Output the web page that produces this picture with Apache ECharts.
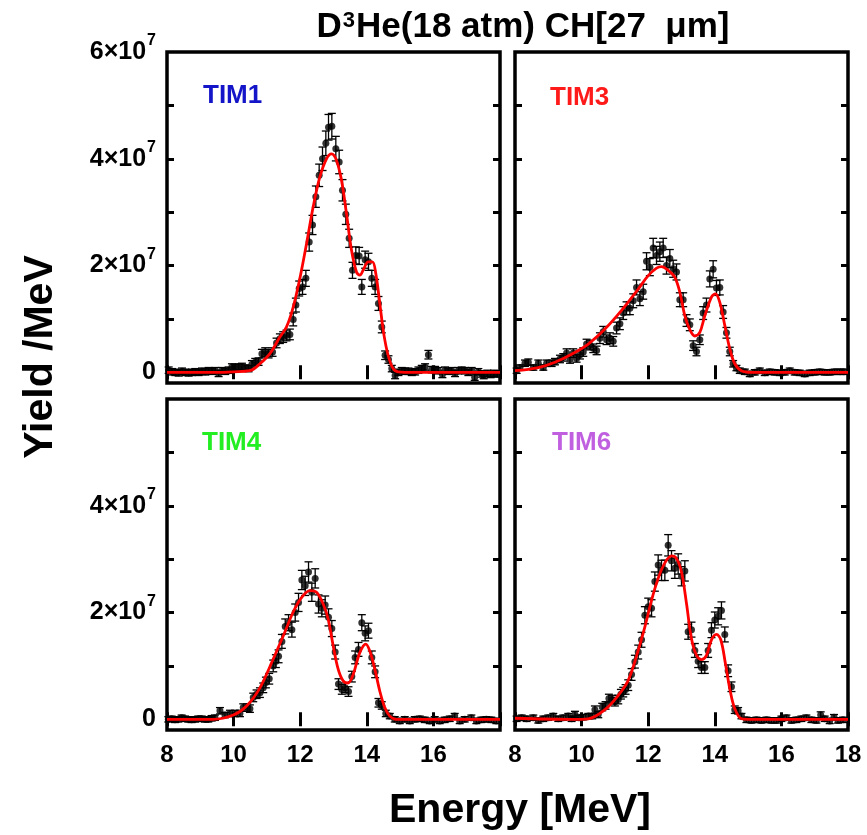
<!DOCTYPE html>
<html>
<head>
<meta charset="utf-8">
<script src="https://cdn.jsdelivr.net/npm/echarts@6/dist/echarts.min.js"></script>
<style>
  html, body { margin: 0; padding: 0; background: #fff; }
  #chart { width: 867px; height: 835px; }
</style>
</head>
<body>
<div id="chart"></div>
<script>
// Proton spectra per detector: [energy (MeV), yield (1e7 /MeV), error (1e7 /MeV)]
const tim1Points = [
  [8.05,0.04,0.06],[8.15,0.01,0.06],[8.25,0.0,0.06],[8.35,-0.01,0.06],[8.45,0.02,0.06],[8.55,0.0,0.06],
  [8.65,-0.01,0.06],[8.75,0.0,0.06],[8.85,0.01,0.06],[8.95,0.0,0.06],[9.05,0.02,0.06],[9.15,0.01,0.06],
  [9.25,0.03,0.06],[9.35,0.02,0.06],[9.45,0.03,0.06],[9.55,-0.02,0.06],[9.65,0.03,0.06],[9.75,0.02,0.06],
  [9.85,0.04,0.06],[9.95,0.1,0.06],[10.05,0.09,0.06],[10.15,0.1,0.06],[10.25,0.11,0.06],[10.35,0.08,0.06],
  [10.45,0.07,0.06],[10.55,0.15,0.07],[10.65,0.19,0.07],[10.75,0.2,0.07],[10.85,0.35,0.08],[10.95,0.38,0.08],
  [11.05,0.35,0.08],[11.17,0.38,0.08],[11.29,0.55,0.09],[11.39,0.63,0.09],[11.49,0.66,0.1],[11.59,0.69,0.1],
  [11.69,0.71,0.1],[11.79,0.99,0.12],[11.87,1.26,0.13],[11.97,1.57,0.14],[12.07,1.6,0.14],[12.17,1.76,0.15],
  [12.27,2.44,0.17],[12.37,2.76,0.18],[12.47,3.29,0.2],[12.57,3.69,0.21],[12.67,4.0,0.22],[12.77,4.29,0.23],
  [12.85,4.59,0.24],[12.95,4.61,0.24],[13.07,4.19,0.23],[13.17,3.94,0.22],[13.27,3.41,0.2],[13.37,2.96,0.19],
  [13.47,2.51,0.17],[13.57,1.91,0.15],[13.67,2.19,0.16],[13.77,2.18,0.16],[13.85,1.6,0.14],[13.95,2.11,0.16],
  [14.05,2.07,0.16],[14.15,1.76,0.15],[14.25,1.6,0.14],[14.35,1.29,0.13],[14.45,0.85,0.11],[14.55,0.32,0.08],
  [14.65,0.24,0.07],[14.75,0.07,0.06],[14.85,-0.06,0.06],[14.95,0.0,0.06],[15.05,0.03,0.06],[15.15,0.02,0.06],
  [15.25,0.02,0.06],[15.35,0.0,0.06],[15.45,0.01,0.06],[15.55,0.04,0.06],[15.65,0.07,0.06],[15.75,0.1,0.06],
  [15.85,0.33,0.08],[15.95,0.05,0.06],[16.05,0.05,0.06],[16.15,0.03,0.06],[16.27,-0.04,0.06],[16.35,0.04,0.06],
  [16.45,0.02,0.06],[16.55,0.03,0.06],[16.65,-0.02,0.06],[16.75,0.03,0.06],[16.85,0.04,0.06],[16.95,0.03,0.06],
  [17.05,0.0,0.06],[17.15,0.03,0.06],[17.24,-0.09,0.06],[17.35,0.01,0.06],[17.45,-0.03,0.06],[17.51,-0.06,0.06],
  [17.62,-0.02,0.06],[17.72,-0.04,0.06],[17.82,-0.02,0.06],[17.92,-0.03,0.06]
];
const tim1Fit = [
  [8.0,0.0],[9.5,0.0],[10.0,0.01],[10.49,0.03],[10.79,0.16],[11.09,0.35],[11.39,0.66],[11.59,0.85],
  [11.79,1.22],[11.99,1.76],[12.19,2.41],[12.39,3.1],[12.59,3.66],[12.79,4.0],[12.94,4.09],[13.09,3.97],
  [13.24,3.6],[13.39,2.97],[13.54,2.29],[13.69,1.88],[13.79,1.82],[13.91,1.94],[14.04,2.07],[14.17,2.07],
  [14.27,1.85],[14.39,1.29],[14.51,0.72],[14.64,0.32],[14.79,0.07],[14.94,0.01],[15.39,0.0],[18.0,0.0]
];

const tim3Points = [
  [8.05,0.03,0.05],[8.15,0.09,0.05],[8.3,0.17,0.06],[8.4,0.19,0.06],[8.55,0.09,0.05],[8.7,0.17,0.06],
  [8.85,0.09,0.05],[8.95,0.17,0.06],[9.1,0.17,0.06],[9.2,0.2,0.06],[9.35,0.25,0.07],[9.45,0.28,0.07],
  [9.55,0.36,0.08],[9.65,0.24,0.07],[9.75,0.36,0.08],[9.85,0.26,0.07],[9.95,0.33,0.08],[10.05,0.38,0.08],
  [10.15,0.53,0.09],[10.25,0.51,0.09],[10.35,0.45,0.08],[10.45,0.41,0.08],[10.55,0.64,0.1],[10.65,0.76,0.1],
  [10.75,0.61,0.09],[10.85,0.64,0.1],[10.95,0.58,0.09],[11.05,0.83,0.11],[11.15,0.91,0.11],[11.25,1.11,0.12],
  [11.35,1.2,0.12],[11.45,1.2,0.12],[11.55,1.34,0.13],[11.65,1.59,0.14],[11.75,1.38,0.13],[11.85,1.51,0.14],
  [11.95,2.08,0.16],[12.05,1.97,0.16],[12.15,2.33,0.18],[12.25,2.19,0.17],[12.35,2.26,0.18],[12.45,2.33,0.18],
  [12.55,2.0,0.16],[12.65,2.13,0.17],[12.75,1.94,0.16],[12.85,1.88,0.15],[12.95,1.36,0.13],[13.05,1.36,0.13],
  [13.15,0.97,0.11],[13.25,0.89,0.11],[13.35,0.5,0.09],[13.45,0.39,0.08],[13.55,0.61,0.09],[13.65,1.11,0.12],
  [13.75,1.26,0.13],[13.85,1.75,0.15],[13.95,1.93,0.16],[14.05,1.58,0.14],[14.15,1.59,0.14],[14.25,1.13,0.12],
  [14.35,0.74,0.1],[14.45,0.39,0.08],[14.55,0.16,0.06],[14.65,0.08,0.05],[14.75,0.03,0.05],[14.9,0.01,0.05],
  [15.05,-0.03,0.05],[15.2,0.0,0.05],[15.35,0.03,0.05],[15.5,-0.01,0.05],[15.65,0.01,0.05],[15.8,0.0,0.05],
  [15.95,-0.01,0.05],[16.1,0.0,0.05],[16.25,0.03,0.05],[16.4,0.0,0.05],[16.55,-0.01,0.05],[16.7,-0.03,0.05],
  [16.85,-0.01,0.05],[17.0,0.0,0.05],[17.15,0.01,0.05],[17.3,0.0,0.05],[17.45,0.0,0.05],[17.6,0.01,0.05],
  [17.75,0.01,0.05],[17.88,0.01,0.05]
];
const tim3Fit = [
  [8.0,0.03],[8.7,0.09],[9.2,0.19],[9.7,0.34],[10.2,0.53],[10.7,0.81],[11.2,1.16],[11.7,1.56],[12.0,1.81],
  [12.25,1.95],[12.4,1.98],[12.6,1.91],[12.8,1.78],[12.95,1.5],[13.1,1.06],[13.25,0.8],[13.4,0.68],
  [13.55,0.75],[13.7,1.06],[13.9,1.41],[14.02,1.47],[14.15,1.31],[14.3,0.88],[14.45,0.44],[14.6,0.16],
  [14.8,0.03],[15.1,0.0],[15.7,0.0],[18.0,0.0]
];

const tim4Points = [
  [8.04,0.0,0.05],[8.14,0.01,0.05],[8.24,-0.01,0.05],[8.34,0.0,0.05],[8.44,0.03,0.05],[8.54,0.01,0.05],
  [8.64,0.0,0.05],[8.74,-0.01,0.05],[8.84,0.0,0.05],[8.94,0.01,0.05],[9.04,0.01,0.05],[9.14,0.0,0.05],
  [9.24,0.0,0.05],[9.34,0.02,0.05],[9.44,0.03,0.05],[9.59,0.16,0.06],[9.74,0.08,0.05],[9.89,0.11,0.06],
  [10.04,0.11,0.06],[10.19,0.11,0.06],[10.29,0.22,0.07],[10.41,0.22,0.07],[10.49,0.2,0.07],[10.59,0.41,0.08],
  [10.69,0.47,0.08],[10.79,0.5,0.09],[10.89,0.59,0.09],[10.97,0.69,0.1],[11.07,0.76,0.1],[11.19,1.0,0.11],
  [11.27,1.09,0.12],[11.35,1.18,0.12],[11.45,1.46,0.13],[11.55,1.74,0.14],[11.65,1.81,0.15],[11.75,1.68,0.14],
  [11.85,2.0,0.16],[11.95,2.19,0.17],[12.05,2.61,0.18],[12.15,2.5,0.18],[12.25,2.76,0.19],[12.35,2.38,0.17],
  [12.45,2.64,0.18],[12.55,2.16,0.17],[12.65,2.08,0.16],[12.75,2.14,0.17],[12.85,1.91,0.16],[12.95,1.7,0.15],
  [13.05,1.26,0.13],[13.15,0.66,0.1],[13.25,0.56,0.09],[13.35,0.59,0.09],[13.45,0.52,0.09],[13.55,0.8,0.1],
  [13.65,1.16,0.12],[13.75,1.31,0.13],[13.85,1.81,0.15],[13.95,1.61,0.14],[14.05,1.66,0.14],[14.15,1.16,0.12],
  [14.25,0.89,0.11],[14.35,0.31,0.08],[14.45,0.26,0.07],[14.57,0.11,0.06],[14.69,0.06,0.05],[14.84,0.0,0.05],
  [14.99,-0.03,0.05],[15.14,0.0,0.05],[15.29,-0.03,0.05],[15.44,0.0,0.05],[15.59,0.01,0.05],[15.74,-0.01,0.05],
  [15.89,-0.03,0.05],[16.04,0.0,0.05],[16.19,-0.03,0.05],[16.34,-0.01,0.05],[16.49,0.01,0.05],[16.64,0.06,0.05],
  [16.79,-0.03,0.05],[16.94,0.0,0.05],[17.14,0.03,0.05],[17.29,-0.03,0.05],[17.44,-0.01,0.05],[17.59,0.0,0.05],
  [17.74,-0.01,0.05],[17.89,-0.03,0.05]
];
const tim4Fit = [
  [8.0,0.0],[9.39,0.0],[9.99,0.08],[10.39,0.25],[10.79,0.59],[11.19,1.13],[11.49,1.56],[11.79,2.01],
  [12.04,2.28],[12.29,2.41],[12.49,2.38],[12.69,2.16],[12.84,1.88],[12.99,1.38],[13.14,0.94],[13.29,0.72],
  [13.44,0.68],[13.59,0.84],[13.79,1.25],[13.97,1.41],[14.09,1.28],[14.24,0.94],[14.39,0.53],[14.54,0.22],
  [14.69,0.06],[14.89,0.0],[18.0,0.0]
];

const tim6Points = [
  [8.05,0.01,0.05],[8.2,0.03,0.05],[8.35,0.01,0.05],[8.55,0.03,0.05],[8.7,-0.02,0.05],[8.85,0.01,0.05],
  [9.0,0.03,0.05],[9.15,0.06,0.05],[9.3,0.01,0.05],[9.45,0.03,0.05],[9.6,0.06,0.05],[9.7,0.01,0.05],
  [9.8,0.09,0.06],[9.92,0.03,0.05],[10.05,0.04,0.05],[10.2,0.06,0.05],[10.32,0.06,0.05],[10.4,0.18,0.07],
  [10.5,0.09,0.06],[10.62,0.23,0.07],[10.72,0.26,0.07],[10.82,0.39,0.08],[10.92,0.37,0.08],[11.0,0.33,0.08],
  [11.1,0.37,0.08],[11.18,0.47,0.09],[11.25,0.51,0.09],[11.32,0.56,0.09],[11.4,0.64,0.1],[11.5,0.84,0.11],
  [11.6,1.08,0.12],[11.7,1.26,0.13],[11.8,1.49,0.14],[11.9,1.95,0.16],[12.0,2.11,0.16],[12.1,2.08,0.16],
  [12.2,2.58,0.18],[12.3,2.89,0.19],[12.4,2.79,0.19],[12.5,2.79,0.19],[12.6,3.26,0.2],[12.7,2.97,0.19],
  [12.8,2.83,0.19],[12.9,2.91,0.19],[13.0,2.68,0.18],[13.1,2.78,0.19],[13.2,1.64,0.14],[13.3,1.68,0.14],
  [13.4,1.29,0.13],[13.5,1.09,0.12],[13.6,0.97,0.11],[13.7,0.97,0.11],[13.8,1.29,0.13],[13.9,1.67,0.14],
  [14.0,1.86,0.15],[14.1,1.93,0.16],[14.2,2.04,0.16],[14.3,1.59,0.14],[14.4,0.91,0.11],[14.5,0.61,0.09],
  [14.6,0.18,0.07],[14.7,0.16,0.06],[14.8,0.06,0.05],[14.95,-0.01,0.05],[15.1,-0.02,0.05],[15.25,-0.01,0.05],
  [15.4,-0.02,0.05],[15.55,-0.01,0.05],[15.7,-0.02,0.05],[15.85,-0.02,0.05],[16.0,0.01,0.05],[16.15,0.03,0.05],
  [16.3,-0.02,0.05],[16.45,-0.01,0.05],[16.6,0.01,0.05],[16.75,0.03,0.05],[16.9,-0.01,0.05],[17.05,-0.02,0.05],
  [17.18,0.08,0.06],[17.3,0.01,0.05],[17.45,-0.03,0.05],[17.58,0.04,0.05],[17.7,-0.02,0.05],[17.85,-0.01,0.05]
];
const tim6Fit = [
  [8.0,0.02],[9.7,0.0],[10.2,0.01],[10.7,0.18],[11.1,0.45],[11.4,0.73],[11.7,1.29],[11.9,1.73],[12.1,2.23],
  [12.3,2.64],[12.5,2.93],[12.7,3.06],[12.85,3.01],[13.0,2.76],[13.15,2.17],[13.3,1.51],[13.45,1.2],
  [13.6,1.12],[13.75,1.2],[13.9,1.49],[14.05,1.59],[14.18,1.49],[14.32,1.04],[14.46,0.54],[14.6,0.2],
  [14.8,0.01],[15.0,0.0],[18.0,0.0]
];

// Panel names, label colours and tick values
const panelNames = ['TIM1', 'TIM3', 'TIM4', 'TIM6'];
const panelColors = ['#1414c8', '#ff1a1a', '#22ee22', '#c060e0'];
const energyTicks = [8, 10, 12, 14, 16, 18];
const yieldMinorTicks = [1, 2, 3, 4, 5];
const yieldLabelsTop = [0, 2, 4, 6];
const yieldLabelsBottom = [0, 2, 4];

const panelPoints = [tim1Points, tim3Points, tim4Points, tim6Points];
const panelFits = [tim1Fit, tim3Fit, tim4Fit, tim6Fit];

const FONT = '"Liberation Sans", Arial, Helvetica, sans-serif';

const gridBoxes = [
  { left: 167, top: 52 },
  { left: 515, top: 52 },
  { left: 167, top: 399 },
  { left: 515, top: 399 }
];

const grids = gridBoxes.map(b => ({
  left: b.left, top: b.top, width: 333, height: 331,
  show: true, borderColor: '#000', borderWidth: 3.5, backgroundColor: 'transparent'
}));

const tickStyle = { inside: true, length: 7, lineStyle: { color: '#000', width: 3 } };

const xAxes = [];
const yAxes = [];
for (let i = 0; i < 4; i++) {
  const showX = i >= 2;
  xAxes.push({
    gridIndex: i, type: 'value', position: 'bottom', min: 8, max: 18, interval: 2,
    axisLine: { show: false }, splitLine: { show: false },
    axisTick: Object.assign({}, tickStyle, { customValues: energyTicks }),
    axisLabel: {
      show: showX, customValues: i === 3 ? energyTicks : energyTicks.slice(0, 5),
      fontSize: 24, fontWeight: 'bold', fontFamily: FONT, color: '#000', margin: 13
    }
  });
  xAxes.push({
    gridIndex: i, type: 'value', position: 'top', min: 8, max: 18, interval: 2,
    axisLine: { show: false }, splitLine: { show: false },
    axisTick: Object.assign({}, tickStyle, { customValues: energyTicks }),
    axisLabel: { show: false }
  });
  const showY = i % 2 === 0;
  yAxes.push({
    gridIndex: i, type: 'value', position: 'left', min: -0.2, max: 6,
    axisLine: { show: false }, splitLine: { show: false },
    axisTick: Object.assign({}, tickStyle, { customValues: yieldMinorTicks }),
    axisLabel: {
      show: showY, customValues: i === 0 ? yieldLabelsTop : yieldLabelsBottom,
      margin: 11, color: '#000',
      formatter: v => v === 0 ? '{b|0}' : '{b|' + v + '×10}{s|7}',
      rich: {
        b: { fontSize: 25, fontWeight: 'bold', fontFamily: FONT, color: '#000' },
        s: { fontSize: 16, fontWeight: 'bold', fontFamily: FONT, color: '#000', padding: [0, 0, 22, 1] }
      }
    }
  });
  yAxes.push({
    gridIndex: i, type: 'value', position: 'right', min: -0.2, max: 6,
    axisLine: { show: false }, splitLine: { show: false },
    axisTick: Object.assign({}, tickStyle, { customValues: yieldMinorTicks }),
    axisLabel: { show: false }
  });
}

function errorBarSeries(points, i) {
  return {
    type: 'custom', xAxisIndex: i * 2, yAxisIndex: i * 2, z: 3,
    encode: { x: 0, y: [1, 2] },
    data: points.map(p => [p[0], p[1] - p[2], p[1] + p[2]]),
    renderItem(params, api) {
      const lo = api.coord([api.value(0), api.value(1)]);
      const hi = api.coord([api.value(0), api.value(2)]);
      const w = 4;
      const style = { stroke: '#000', lineWidth: 1.3 };
      return {
        type: 'group',
        children: [
          { type: 'line', shape: { x1: lo[0], y1: lo[1], x2: hi[0], y2: hi[1] }, style },
          { type: 'line', shape: { x1: lo[0] - w, y1: lo[1], x2: lo[0] + w, y2: lo[1] }, style },
          { type: 'line', shape: { x1: hi[0] - w, y1: hi[1], x2: hi[0] + w, y2: hi[1] }, style }
        ]
      };
    }
  };
}

const series = [];
for (let i = 0; i < 4; i++) {
  series.push(errorBarSeries(panelPoints[i], i));
  series.push({
    type: 'scatter', xAxisIndex: i * 2, yAxisIndex: i * 2, z: 4,
    symbol: 'circle', symbolSize: 7, itemStyle: { color: '#000' },
    data: panelPoints[i].map(p => [p[0], p[1]])
  });
  series.push({
    type: 'line', xAxisIndex: i * 2, yAxisIndex: i * 2, z: 5,
    smooth: 0.35, showSymbol: false, symbol: 'none',
    lineStyle: { color: '#ff0000', width: 2.8 },
    data: panelFits[i]
  });
}

const labelPos = [[203, 96], [550, 98], [202, 443], [552, 443]];
const centered = { align: 'center', verticalAlign: 'middle', textAlign: 'center', textVerticalAlign: 'middle' };
const graphics = [
  {
    type: 'text', x: 523, y: 27,
    style: Object.assign({
      text: 'D{s|3}He(18 atm) CH[27  μm]', font: 'bold 35px ' + FONT, fill: '#000',
      rich: { s: { fontSize: 22, fontWeight: 'bold', fontFamily: FONT, fill: '#000', padding: [0, 1, 12, 1] } }
    }, centered)
  },
  {
    type: 'text', x: 41, y: 357, rotation: Math.PI / 2,
    style: Object.assign({ text: 'Yield /MeV', font: 'bold 41px ' + FONT, fill: '#000' }, centered)
  },
  {
    type: 'text', x: 520, y: 811,
    style: Object.assign({ text: 'Energy [MeV]', font: 'bold 41px ' + FONT, fill: '#000' }, centered)
  }
];
panelNames.forEach((name, i) => {
  graphics.push({
    type: 'text', x: labelPos[i][0], y: labelPos[i][1],
    style: {
      text: name, font: 'bold 26px ' + FONT, fill: panelColors[i],
      align: 'left', verticalAlign: 'middle', textAlign: 'left', textVerticalAlign: 'middle'
    }
  });
});

const chart = echarts.init(document.getElementById('chart'), null, { renderer: 'canvas' });
chart.setOption({
  animation: false,
  backgroundColor: '#fff',
  grid: grids,
  xAxis: xAxes,
  yAxis: yAxes,
  series: series,
  graphic: graphics
});
</script>
</body>
</html>
